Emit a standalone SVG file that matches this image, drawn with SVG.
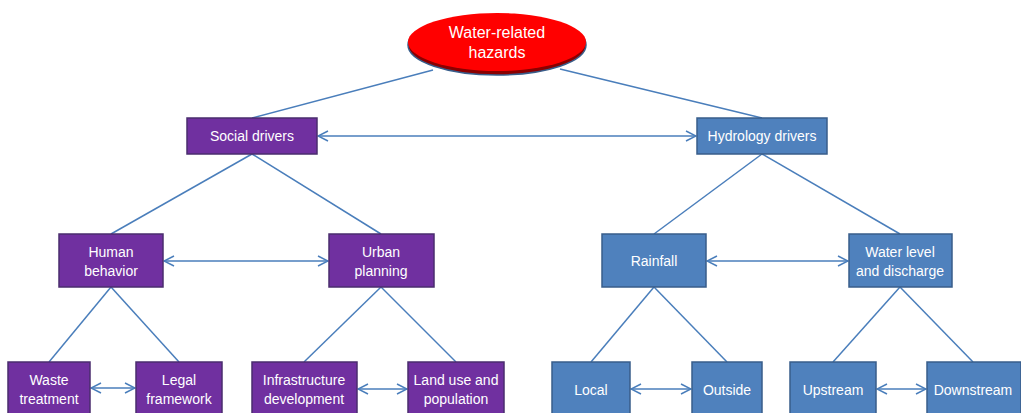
<svg xmlns="http://www.w3.org/2000/svg" width="1021" height="413" viewBox="0 0 1021 413">
<style>
.p{fill:#7030A0;stroke:#4A2D6E;stroke-width:1.5}
.b{fill:#4F81BD;stroke:#385D8A;stroke-width:1.5}
.t{font-family:"Liberation Sans",Arial,sans-serif;font-size:14px;fill:#fff;text-anchor:middle}
.l{stroke:#4A7EBB;stroke-width:1.5;fill:none}
.d{stroke:#4A7EBB;stroke-width:1.5;fill:none;marker-start:url(#ah);marker-end:url(#ah)}
</style>
<defs>
<marker id="ah" viewBox="0 0 12 12" refX="11" refY="6" markerWidth="12" markerHeight="12" markerUnits="userSpaceOnUse" orient="auto-start-reverse">
<polyline points="1,1 11,6 1,11" fill="none" stroke="#4A7EBB" stroke-width="1.5"/>
</marker>
</defs>
<g id="connectors">
<line class="l" x1="433" y1="70" x2="252" y2="118"/>
<line class="l" x1="560" y1="69" x2="762" y2="118"/>
<line class="l" x1="252" y1="154" x2="111" y2="234"/>
<line class="l" x1="252" y1="154" x2="381" y2="234"/>
<line class="l" x1="762" y1="154" x2="654" y2="234"/>
<line class="l" x1="762" y1="154" x2="900" y2="234"/>
<line class="l" x1="111" y1="287" x2="49" y2="362"/>
<line class="l" x1="111" y1="287" x2="179" y2="362"/>
<line class="l" x1="381" y1="287" x2="304" y2="362"/>
<line class="l" x1="381" y1="287" x2="456" y2="362"/>
<line class="l" x1="654" y1="287" x2="591" y2="362"/>
<line class="l" x1="654" y1="287" x2="727" y2="362"/>
<line class="l" x1="900" y1="287" x2="833" y2="362"/>
<line class="l" x1="900" y1="287" x2="973" y2="362"/>
<line class="d" x1="318" y1="136" x2="696" y2="136"/>
<line class="d" x1="164" y1="261" x2="328" y2="261"/>
<line class="d" x1="707" y1="261" x2="848" y2="261"/>
<line class="d" x1="91" y1="388" x2="135" y2="388"/>
<line class="d" x1="358" y1="389" x2="407" y2="389"/>
<line class="d" x1="631" y1="389" x2="691" y2="389"/>
<line class="d" x1="877" y1="389" x2="926" y2="389"/>
</g>
<g id="hazards">
<ellipse cx="497" cy="45" rx="89" ry="30" fill="#8B0000" stroke="#385D8A" stroke-width="1.5"/>
<ellipse cx="497" cy="42" rx="89" ry="29" fill="#FF0000"/>
<text class="t" x="497" y="38" style="font-size:16px">Water-related</text>
<text class="t" x="497" y="58" style="font-size:16px">hazards</text>
</g>
<g id="social"><rect class="p" x="187" y="118" width="130" height="36"/><text class="t" x="252" y="141">Social drivers</text></g>
<g id="hydrology"><rect class="b" x="697" y="118" width="130" height="36"/><text class="t" x="762" y="141">Hydrology drivers</text></g>
<g id="human"><rect class="p" x="59" y="234" width="104" height="53"/><text class="t" x="111" y="257">Human</text><text class="t" x="111" y="276">behavior</text></g>
<g id="urban"><rect class="p" x="329" y="234" width="105" height="53"/><text class="t" x="381" y="257">Urban</text><text class="t" x="381" y="276">planning</text></g>
<g id="rainfall"><rect class="b" x="602" y="234" width="104" height="53"/><text class="t" x="654" y="266">Rainfall</text></g>
<g id="waterlevel"><rect class="b" x="849" y="234" width="103" height="53"/><text class="t" x="900" y="257">Water level</text><text class="t" x="900" y="276">and discharge</text></g>
<g id="waste"><rect class="p" x="8" y="362" width="82" height="56"/><text class="t" x="49" y="385">Waste</text><text class="t" x="49" y="404">treatment</text></g>
<g id="legal"><rect class="p" x="136" y="362" width="86" height="56"/><text class="t" x="179" y="385">Legal</text><text class="t" x="179" y="404">framework</text></g>
<g id="infra"><rect class="p" x="252" y="362" width="105" height="56"/><text class="t" x="304" y="385">Infrastructure</text><text class="t" x="304" y="404">development</text></g>
<g id="landuse"><rect class="p" x="408" y="362" width="96" height="56"/><text class="t" x="456" y="385">Land use and</text><text class="t" x="456" y="404">population</text></g>
<g id="local"><rect class="b" x="552" y="362" width="78" height="56"/><text class="t" x="591" y="395">Local</text></g>
<g id="outside"><rect class="b" x="692" y="362" width="70" height="56"/><text class="t" x="727" y="395">Outside</text></g>
<g id="upstream"><rect class="b" x="790" y="362" width="86" height="56"/><text class="t" x="833" y="395">Upstream</text></g>
<g id="downstream"><rect class="b" x="927" y="362" width="94" height="56"/><text class="t" x="973" y="395">Downstream</text></g>
</svg>
